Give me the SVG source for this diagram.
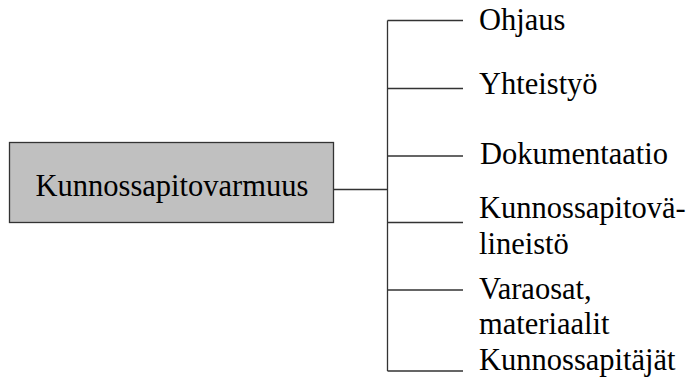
<svg xmlns="http://www.w3.org/2000/svg" width="688" height="387" viewBox="0 0 688 387" font-family="'Liberation Serif', 'Times New Roman', serif" font-size="30.5">
  <style>
    .wire { stroke: #333; stroke-width: 1.3; fill: none; }
  </style>
  <rect x="0" y="0" width="688" height="387" fill="#fff"/>
  <g id="connectors">
    <path class="wire" d="M333.5 189.5 H387.5 M387.5 20.5 V371 M387.5 20.5 H463 M387.5 88.5 H463 M387.5 156 H463 M387.5 222.5 H463 M387.5 290 H463 M387.5 371 H463"/>
  </g>
  <g id="root">
    <rect x="9.5" y="142.5" width="324" height="80" fill="#c0c0c0" stroke="#333" stroke-width="1.3"/>
    <text x="35.5" y="196">Kunnossapitovarmuus</text>
  </g>
  <g id="ohjaus"><text x="479" y="29.5">Ohjaus</text></g>
  <g id="yhteistyo"><text x="479" y="93.5">Yhteistyö</text></g>
  <g id="dokumentaatio"><text x="480" y="163.5">Dokumentaatio</text></g>
  <g id="valineisto"><text x="479" y="217.5">Kunnossapitovä-</text><text x="479" y="253.5">lineistö</text></g>
  <g id="varaosat"><text x="479" y="298.5">Varaosat,</text><text x="479" y="334">materiaalit</text></g>
  <g id="kunnossapitajat"><text x="479" y="370">Kunnossapitäjät</text></g>
</svg>
